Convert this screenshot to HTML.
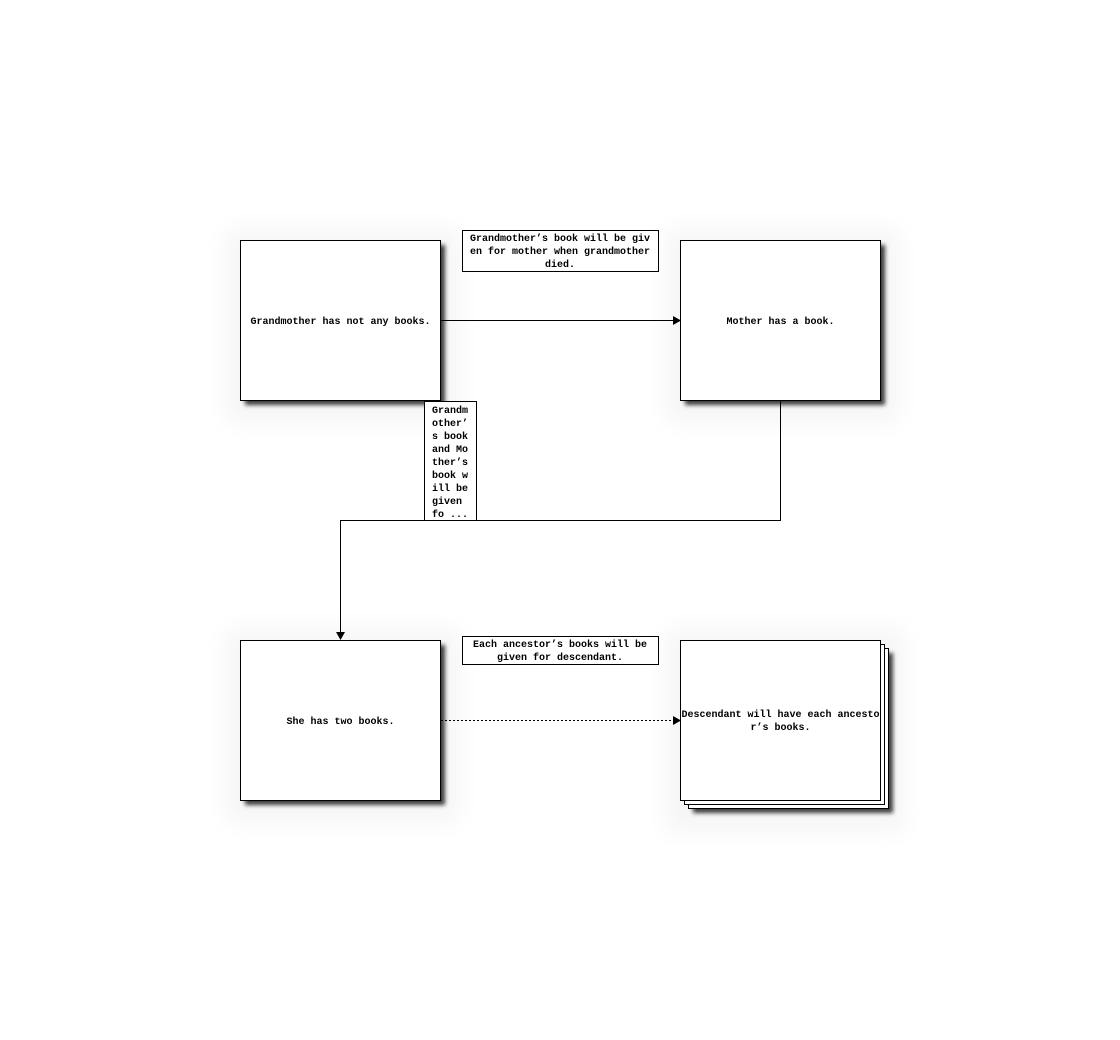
<!DOCTYPE html>
<html><head><meta charset="utf-8"><style>
html,body{margin:0;padding:0;background:#fff;}
svg{display:block;}
text{font-family:"Liberation Mono",monospace;font-size:10px;font-weight:bold;fill:#000;}
</style></head><body>
<svg width="1120" height="1040" viewBox="0 0 1120 1040" xmlns="http://www.w3.org/2000/svg">
<defs>
<filter id="glow" x="-30%" y="-30%" width="160%" height="160%"><feGaussianBlur stdDeviation="12"/></filter>
<filter id="sh" x="-10%" y="-10%" width="130%" height="130%"><feGaussianBlur stdDeviation="2"/></filter>
</defs>
<!-- faint glows -->
<g fill="#000" opacity="0.035" filter="url(#glow)">
<rect x="225" y="228" width="235" height="195"/>
<rect x="665" y="228" width="235" height="195"/>
<rect x="225" y="628" width="235" height="195"/>
<rect x="665" y="628" width="240" height="205"/>
</g>
<!-- shadows -->
<g fill="#000" opacity="0.75" filter="url(#sh)">
<rect x="245" y="245" width="200" height="160"/>
<rect x="685" y="245" width="200" height="160"/>
<rect x="245" y="645" width="200" height="160"/>
<rect x="693" y="653" width="200" height="160"/>
</g>
<g fill="#fff" stroke="#000" stroke-width="1">
<rect x="240.5" y="240.5" width="200" height="160"/>
<rect x="680.5" y="240.5" width="200" height="160"/>
<rect x="240.5" y="640.5" width="200" height="160"/>
<rect x="688.5" y="648.5" width="200" height="160"/>
<rect x="684.5" y="644.5" width="200" height="160"/>
<rect x="680.5" y="640.5" width="200" height="160"/>
</g>
<!-- connectors -->
<g stroke="#000" stroke-width="1" fill="none">
<line x1="441" y1="320.5" x2="674" y2="320.5"/>
<polyline points="780.5,401 780.5,520.5 340.5,520.5 340.5,633"/>
<line x1="441" y1="720.5" x2="674" y2="720.5" stroke-dasharray="2,2"/>
</g>
<g fill="#000">
<polygon points="673,316 681,320.5 673,325"/>
<polygon points="336,632 345,632 340.5,640"/>
<polygon points="673,716 681,720.5 673,725"/>
</g>
<!-- labels -->
<g fill="#fff" stroke="#000" stroke-width="1">
<rect x="462.5" y="230.5" width="196" height="41"/>
<rect x="424.5" y="401.5" width="52" height="119"/>
<rect x="462.5" y="636.5" width="196" height="28"/>
</g>
<text x="340.5" y="324" text-anchor="middle">Grandmother has not any books.</text>
<text x="780.5" y="324" text-anchor="middle">Mother has a book.</text>
<text x="340.5" y="724" text-anchor="middle">She has two books.</text>
<text x="780.5" y="717" text-anchor="middle">Descendant will have each ancesto</text>
<text x="780.5" y="730" text-anchor="middle">r’s books.</text>
<text x="560" y="241" text-anchor="middle">Grandmother’s book will be giv</text>
<text x="560" y="254" text-anchor="middle">en for mother when grandmother</text>
<text x="560" y="267" text-anchor="middle">died.</text>
<text x="560" y="647" text-anchor="middle">Each ancestor’s books will be</text>
<text x="560" y="660" text-anchor="middle">given for descendant.</text>
<text x="432" y="413">Grandm</text>
<text x="432" y="426">other’</text>
<text x="432" y="439">s book</text>
<text x="432" y="452">and Mo</text>
<text x="432" y="465">ther’s</text>
<text x="432" y="478">book w</text>
<text x="432" y="491">ill be</text>
<text x="432" y="504">given</text>
<text x="432" y="517">fo ...</text>
</svg>
</body></html>
